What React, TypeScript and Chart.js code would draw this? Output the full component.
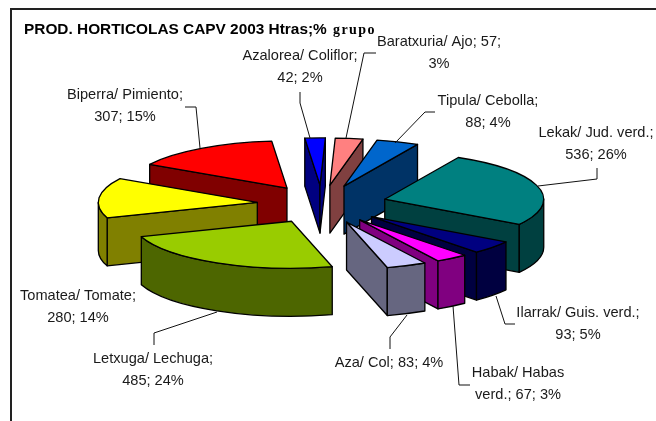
import React, { useEffect, useRef } from "react";
import { Chart, registerables } from "chart.js";

Chart.register(...registerables);

const categories = [
  "Tipula/ Cebolla",
  "Lekak/ Jud. verd.",
  "Ilarrak/ Guis. verd.",
  "Habak/ Habas verd.",
  "Aza/ Col",
  "Letxuga/ Lechuga",
  "Tomatea/ Tomate",
  "Biperra/ Pimiento",
  "Azalorea/ Coliflor",
  "Baratxuria/ Ajo",
];
const hectares = [88, 536, 93, 67, 83, 485, 280, 307, 42, 57];
const topColors = ["#0066CC", "#008080", "#000080", "#FF00FF", "#CCCCFF", "#99CC00", "#FFFF00", "#FF0000", "#0000FF", "#FF8080"];
const sideColors = ["#003366", "#004040", "#000040", "#800080", "#666680", "#4D6600", "#808000", "#800000", "#000080", "#804040"];

const labelLines = [
  ["Tipula/ Cebolla;", "88; 4%"],
  ["Lekak/ Jud. verd.;", "536; 26%"],
  ["Ilarrak/ Guis. verd.;", "93; 5%"],
  ["Habak/ Habas", "verd.; 67; 3%"],
  ["Aza/ Col; 83; 4%"],
  ["Letxuga/ Lechuga;", "485; 24%"],
  ["Tomatea/ Tomate;", "280; 14%"],
  ["Biperra/ Pimiento;", "307; 15%"],
  ["Azalorea/ Coliflor;", "42; 2%"],
  ["Baratxuria/ Ajo; 57;", "3%"],
];
const labelAnchors = [
  [488, 101], [596, 133], [578, 313], [518, 373], [389, 363],
  [153, 359], [78, 296], [125, 95], [300, 56], [439, 42],
];
const leaders = [
  [[435, 112], [425, 112], [395, 143]],
  [[597, 168], [597, 179], [538, 186]],
  [[496, 296], [505, 324], [515, 324]],
  [[453, 306], [459, 385], [470, 385]],
  [[407, 315], [390, 337], [390, 349]],
  [[217, 312], [154, 333], [154, 345]],
  [],
  [[185, 107], [196, 107], [200, 148]],
  [[300, 92], [300, 103], [310, 138]],
  [[376, 53], [364, 53], [346, 138]],
];

const TITLE = "PROD. HORTICOLAS CAPV 2003 Htras;%";
const TITLE_TAIL = "grupo";

const SQUASH = 0.296;
const DEPTH = 48;
const EXPLODE = 65;
const RADIUS = 159;
const LABEL_FONT = '14.6px "Liberation Sans"';
const LABEL_LINE = 21.5;

const pie3d = {
  id: "pie3d",
  beforeDatasetDraw(chart: any) {
    const ctx: CanvasRenderingContext2D = chart.ctx;
    const arcs = chart.getDatasetMeta(0).data;
    const slices = arcs.map((arc: any, i: number) => {
      const a0 = arc.startAngle;
      const a1 = arc.endAngle;
      const mid = (a0 + a1) / 2;
      const ox = EXPLODE * Math.cos(mid);
      const oy = EXPLODE * Math.sin(mid);
      return { arc, i, a0, a1, mid, ox, oy, ex: arc.x + ox, ey: arc.y + SQUASH * oy };
    });
    const order = [...slices].sort((p: any, q: any) => p.ey - q.ey);
    ctx.save();
    ctx.lineWidth = 1.3;
    ctx.strokeStyle = "#000";
    ctx.lineJoin = "round";

    const paint = (fill: string) => {
      ctx.fillStyle = fill;
      ctx.fill();
      ctx.stroke();
    };

    order.forEach((s: any) => {
      const R = s.arc.outerRadius;
      const side = sideColors[s.i];
      const face = (angle: number) => {
        const x = s.ex + R * Math.cos(angle);
        const y = s.ey + SQUASH * R * Math.sin(angle);
        ctx.beginPath();
        ctx.moveTo(s.ex, s.ey);
        ctx.lineTo(x, y);
        ctx.lineTo(x, y + DEPTH);
        ctx.lineTo(s.ex, s.ey + DEPTH);
        ctx.closePath();
        paint(side);
      };
      if (Math.sin(s.a0 - Math.PI / 2) > 0) face(s.a0);
      if (Math.sin(s.a1 + Math.PI / 2) > 0) face(s.a1);
      const from = Math.max(s.a0, 0);
      const to = Math.min(s.a1, Math.PI);
      if (to > from) {
        ctx.beginPath();
        ctx.ellipse(s.ex, s.ey, R, R * SQUASH, 0, from, to);
        ctx.ellipse(s.ex, s.ey + DEPTH, R, R * SQUASH, 0, to, from, true);
        ctx.closePath();
        paint(side);
      }
    });

    order.forEach((s: any) => {
      const R = s.arc.outerRadius;
      ctx.save();
      ctx.translate(s.ex, s.ey);
      ctx.scale(1, SQUASH);
      ctx.translate(-s.arc.x, -s.arc.y);
      s.arc.draw(ctx);
      ctx.restore();
      ctx.beginPath();
      ctx.moveTo(s.ex, s.ey);
      ctx.ellipse(s.ex, s.ey, R, R * SQUASH, 0, s.a0, s.a1);
      ctx.closePath();
      ctx.stroke();
    });
    ctx.restore();
    return false;
  },
  afterDraw(chart: any) {
    const ctx: CanvasRenderingContext2D = chart.ctx;
    ctx.save();
    ctx.strokeStyle = "#111";
    ctx.lineWidth = 1;
    leaders.forEach((pts) => {
      if (!pts.length) return;
      ctx.beginPath();
      pts.forEach(([x, y], k) => (k ? ctx.lineTo(x, y) : ctx.moveTo(x, y)));
      ctx.stroke();
    });
    ctx.fillStyle = "#1a1a1a";
    ctx.font = LABEL_FONT;
    ctx.textAlign = "center";
    ctx.textBaseline = "middle";
    labelLines.forEach((lines, i) => {
      lines.forEach((t, k) => ctx.fillText(t, labelAnchors[i][0], labelAnchors[i][1] + k * LABEL_LINE));
    });
    ctx.fillStyle = "#000";
    ctx.font = 'bold 14px "Liberation Serif"';
    ctx.textAlign = "left";
    (ctx as any).letterSpacing = "1.4px";
    ctx.fillText(TITLE_TAIL, 333, 30);
    ctx.restore();
  },
};

export default function App() {
  const ref = useRef<HTMLCanvasElement>(null);
  useEffect(() => {
    const chart = new Chart(ref.current as HTMLCanvasElement, {
      type: "pie",
      data: {
        labels: categories,
        datasets: [
          {
            data: hectares,
            backgroundColor: topColors,
            borderWidth: 0,
            clip: false,
          } as any,
        ],
      },
      options: {
        responsive: false,
        animation: false,
        rotation: 12,
        radius: RADIUS,
        layout: { padding: { left: 24, right: 36, top: 0, bottom: 52 } },
        plugins: {
          legend: { display: false },
          tooltip: { enabled: false },
          title: {
            display: true,
            text: TITLE,
            align: "start",
            color: "#000",
            font: { family: '"Liberation Sans"', size: 15.4, weight: "bold", lineHeight: 1.2 },
            padding: { top: 21, bottom: 0 },
          },
        },
      } as any,
      plugins: [pie3d],
    });
    return () => chart.destroy();
  }, []);
  return (
    <div style={{ position: "absolute", left: 0, top: 0, width: 656, height: 421, overflow: "hidden", background: "#fff" }}>
      <div
        style={{
          position: "absolute",
          left: 10,
          top: 8,
          width: 646,
          height: 413,
          borderLeft: "2px solid #222",
          borderTop: "2px solid #222",
          boxSizing: "border-box",
        }}
      />
      <canvas
        ref={ref}
        width={656}
        height={421}
        style={{ position: "absolute", left: 0, top: 0, display: "block", filter: "blur(0.35px)" }}
      />
    </div>
  );
}
